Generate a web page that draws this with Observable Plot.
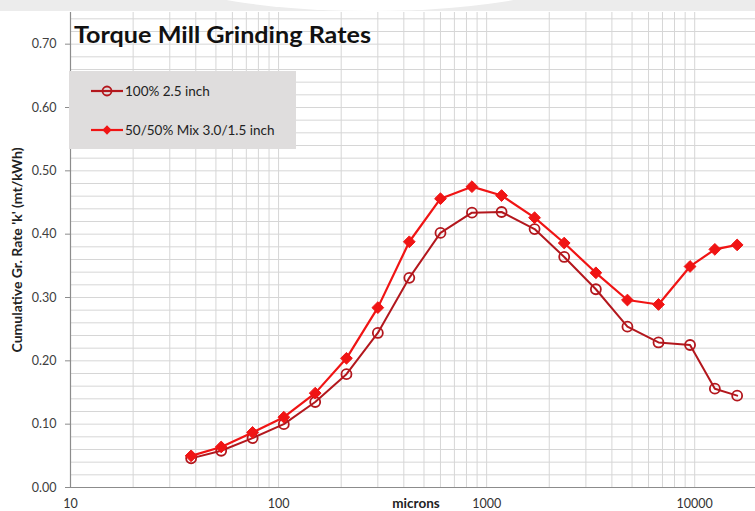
<!DOCTYPE html>
<html>
<head>
<meta charset="utf-8">
<script src="https://cdn.jsdelivr.net/npm/d3@7"></script>
<script src="https://cdn.jsdelivr.net/npm/@observablehq/plot@0.6"></script>
<style>
  html, body { margin: 0; padding: 0; background: #fff; }
  #chart { width: 755px; height: 511px; }
</style>
</head>
<body>
<div id="chart"></div>
<script>
// ---- data ----
const sizes = [38, 53, 75, 106, 150, 212, 300, 425, 600, 850, 1180, 1700, 2360, 3350, 4750, 6700, 9500, 12500, 16000];
const rate100 = [0.046, 0.058, 0.078, 0.100, 0.135, 0.179, 0.244, 0.331, 0.402, 0.434, 0.435, 0.408, 0.364, 0.313, 0.254, 0.229, 0.225, 0.156, 0.145];
const rateMix = [0.050, 0.064, 0.087, 0.111, 0.149, 0.204, 0.284, 0.388, 0.456, 0.475, 0.461, 0.426, 0.386, 0.339, 0.296, 0.289, 0.349, 0.376, 0.383];
const seriesNames = ["100% 2.5 inch", "50/50% Mix 3.0/1.5 inch"];
const xTicks = [10, 100, 1000, 10000];
const yTicks = [0, 0.1, 0.2, 0.3, 0.4, 0.5, 0.6, 0.7];
const titleText = "Torque Mill Grinding Rates";
const yLabel = "Cumulative Gr. Rate 'k' (mt/kWh)";
const xLabel = "microns";

const colA = "#b3171d";
const colB = "#f01414";

const dataA = sizes.map((s, i) => ({size: s, rate: rate100[i]}));
const dataB = sizes.map((s, i) => ({size: s, rate: rateMix[i]}));

const xDomain = [10, 19600];
const xGrid = [];
for (let d = 10; d <= 10000; d *= 10) for (let m = 1; m <= 9; m++) { const v = d * m; if (v <= xDomain[1]) xGrid.push(v); }
const yGrid = d3.range(1, 38).map(i => +(i * 0.02).toFixed(2));

const grid = "#d6d6d6";
const fontFam = "Lato, 'Open Sans', sans-serif";

const svg = Plot.plot({
  width: 755,
  height: 511,
  marginLeft: 70,
  marginRight: 0,
  marginTop: 12,
  marginBottom: 24,
  style: {fontFamily: fontFam, background: "#fff", overflow: "visible"},
  x: {type: "log", domain: xDomain},
  y: {domain: [0, 0.75]},
  marks: [
    Plot.ruleX(xGrid, {stroke: grid, strokeWidth: 1}),
    Plot.ruleY(yGrid, {stroke: grid, strokeWidth: 1}),
    Plot.ruleX([10], {stroke: "#8c8c8c", strokeWidth: 1.2}),
    Plot.ruleY([0], {stroke: "#8c8c8c", strokeWidth: 1.2}),
    Plot.axisY(yTicks, {tickFormat: d3.format(".2f"), tickSize: 5, tickPadding: 9, fontSize: 12.5, fill: "#404040", stroke: "#8c8c8c", label: null}),
    Plot.axisX(xTicks, {tickFormat: d => String(d), tickSize: 0, tickPadding: 12, fontSize: 12.5, fill: "#333", label: null}),
    Plot.line(dataA, {x: "size", y: "rate", stroke: colA, strokeWidth: 2}),
    Plot.dot(dataA, {x: "size", y: "rate", r: 5, stroke: colA, strokeWidth: 1.8, fill: "none"}),
    Plot.line(dataB, {x: "size", y: "rate", stroke: colB, strokeWidth: 2.2}),
    Plot.dot(dataB, {x: "size", y: "rate", r: 5.3, symbol: "diamond2", fill: colB, stroke: colB, strokeWidth: 1})
  ]
});
document.getElementById("chart").appendChild(svg);

const s = d3.select(svg);
// top watermark band
s.insert("rect", ":first-child").attr("x", 0).attr("y", 0).attr("width", 755).attr("height", 11).attr("fill", "#ececec");
s.insert("ellipse", ":nth-child(2)").attr("cx", 370).attr("cy", -32).attr("rx", 215).attr("ry", 43).attr("fill", "#fff");

// title
s.append("text").attr("x", 74).attr("y", 43).attr("text-anchor", "start").attr("font-family", fontFam)
  .attr("font-size", 23).attr("font-weight", "bold").attr("fill", "#111")
  .attr("textLength", 297).attr("lengthAdjust", "spacingAndGlyphs").text(titleText);

// y label
s.append("text").attr("transform", "translate(22,250) rotate(-90)").attr("text-anchor", "middle")
  .attr("font-family", fontFam).attr("font-size", 13).attr("font-weight", "bold").attr("fill", "#222")
  .attr("textLength", 205).attr("lengthAdjust", "spacingAndGlyphs").text(yLabel);
// x label
s.append("text").attr("x", 416).attr("y", 508).attr("text-anchor", "middle")
  .attr("font-family", fontFam).attr("font-size", 13.5).attr("font-weight", "bold").attr("fill", "#222").text(xLabel);

// legend
const lg = s.append("g");
lg.append("rect").attr("x", 69).attr("y", 71).attr("width", 227).attr("height", 78).attr("fill", "#dfdddd");
const entries = [
  {name: seriesNames[0], color: colA, y: 91, type: "circle"},
  {name: seriesNames[1], color: colB, y: 130, type: "diamond"}
];
entries.forEach(e => {
  lg.append("line").attr("x1", 91).attr("x2", 123).attr("y1", e.y).attr("y2", e.y).attr("stroke", e.color).attr("stroke-width", 2.2);
  if (e.type === "circle") {
    lg.append("circle").attr("cx", 107).attr("cy", e.y).attr("r", 4.5).attr("fill", "none").attr("stroke", e.color).attr("stroke-width", 1.8);
  } else {
    lg.append("path").attr("d", d3.symbol(d3.symbolDiamond2, 55)()).attr("transform", `translate(107,${e.y})`).attr("fill", e.color);
  }
  lg.append("text").attr("x", 125).attr("y", e.y + 5).attr("text-anchor", "start").attr("font-family", fontFam).attr("font-size", 13.5).attr("fill", "#222").text(e.name);
});
</script>
</body>
</html>
